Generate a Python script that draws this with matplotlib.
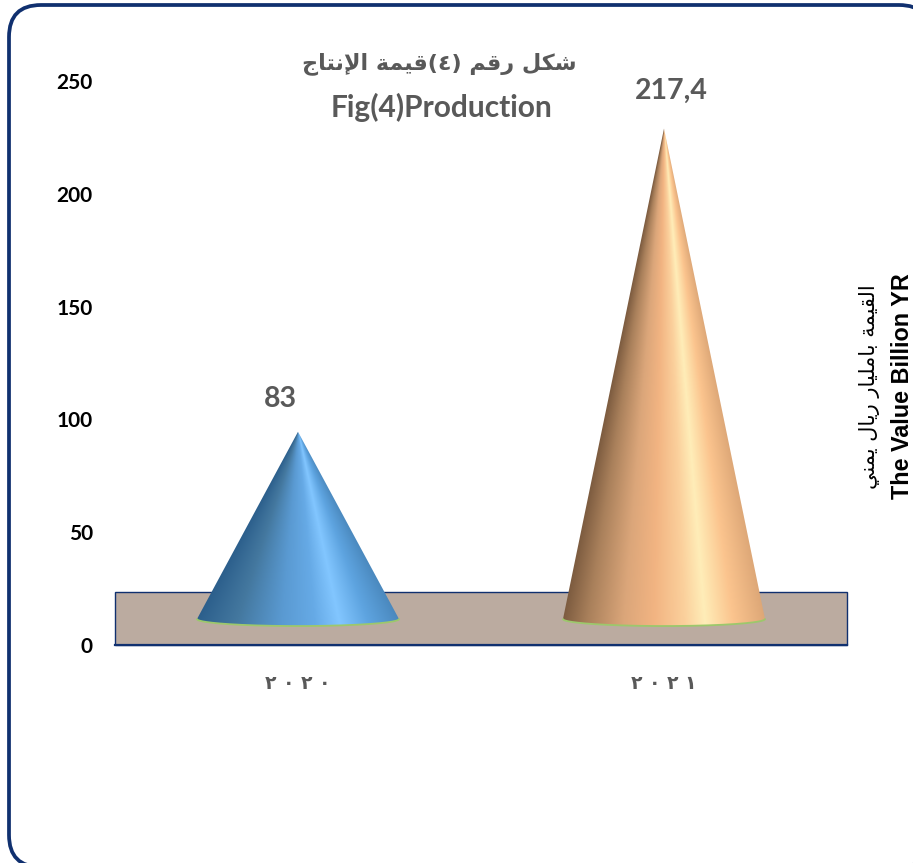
import numpy as np
import matplotlib
matplotlib.use('Agg')
import matplotlib.pyplot as plt
from matplotlib.colors import LinearSegmentedColormap
from matplotlib.patches import FancyBboxPatch, Polygon, Rectangle

# data
years = ['٢٠٢٠', '٢٠٢١']
values = [83, 217.4]
value_labels = ['83', '217,4']
y_ticks = [0, 50, 100, 150, 200, 250]

title_ar = 'شكل رقم (٤)قيمة الإنتاج'
title_en = 'Fig(4)Production'
ylabel_ar = 'القيمة بامليار ريال يمني'
ylabel_en = 'The Value Billion YR'

W, H = 913, 863
GRAY = '#595959'
NAVY = '#10306f'

# matplotlib does not shape arabic, so pick the presentation forms by hand
FORMS = {
    'ا': (0xFE8D, 0xFE8E), 'إ': (0xFE87, 0xFE88), 'ر': (0xFEAD, 0xFEAE), 'ة': (0xFE93, 0xFE94),
    'ب': (0xFE8F, 0xFE90, 0xFE91, 0xFE92), 'ت': (0xFE95, 0xFE96, 0xFE97, 0xFE98),
    'ج': (0xFE9D, 0xFE9E, 0xFE9F, 0xFEA0), 'ش': (0xFEB5, 0xFEB6, 0xFEB7, 0xFEB8),
    'ق': (0xFED5, 0xFED6, 0xFED7, 0xFED8), 'ك': (0xFED9, 0xFEDA, 0xFEDB, 0xFEDC),
    'ل': (0xFEDD, 0xFEDE, 0xFEDF, 0xFEE0), 'م': (0xFEE1, 0xFEE2, 0xFEE3, 0xFEE4),
    'ن': (0xFEE5, 0xFEE6, 0xFEE7, 0xFEE8), 'ي': (0xFEF1, 0xFEF2, 0xFEF3, 0xFEF4),
}


def shape_ar(text):
    out = []
    i = 0
    while i < len(text):
        c = text[i]
        nxt = text[i + 1] if i + 1 < len(text) else ''
        prev = text[i - 1] if i > 0 else ''
        prev_joins = prev in FORMS and len(FORMS[prev]) == 4
        if c == 'ل' and nxt == 'إ':
            out.append(chr(0xFEFA if prev_joins else 0xFEF9))
            i += 2
            continue
        if c in FORMS:
            f = FORMS[c]
            next_ok = nxt in FORMS and len(f) == 4
            if prev_joins and next_ok:
                out.append(chr(f[3]))
            elif prev_joins:
                out.append(chr(f[1]))
            elif next_ok:
                out.append(chr(f[2]))
            else:
                out.append(chr(f[0]))
        else:
            out.append({'(': ')', ')': '('}.get(c, c))
        i += 1
    return ''.join(reversed(out))


fig = plt.figure(figsize=(W / 100, H / 100), dpi=100, facecolor='white')

# rounded frame, runs off the right and bottom edge
frame_ax = fig.add_axes([0, 0, 1, 1], zorder=0)
frame_ax.set_xlim(0, W)
frame_ax.set_ylim(H, 0)
frame_ax.axis('off')
frame_ax.add_patch(FancyBboxPatch((40, 36), 860, 800, boxstyle='round,pad=31,rounding_size=32',
                                  fc='white', ec=NAVY, lw=2.7))

ax = fig.add_axes([115 / W, (H - 645) / H, 732 / W, 618 / H], zorder=1)
ax.set_xlim(-0.5, 1.5)
ax.set_ylim(0, 618 / 2.256)
ax.patch.set_alpha(0)
for s in ax.spines.values():
    s.set_visible(False)

# floor
floor_h = 23.5
ax.add_patch(Rectangle((-0.5, 0), 2, floor_h, fc='#bbaba0', ec=NAVY, lw=1.0, zorder=1, clip_on=False))
ax.plot([-0.5, 1.5], [0, 0], color=NAVY, lw=1.6, zorder=1, clip_on=False)

cmaps = [
    LinearSegmentedColormap.from_list('b', [(0, '#2c5f8c'), (0.2, '#44789f'), (0.42, '#5a9ad2'),
                                            (0.58, '#66aae6'), (0.7, '#82c6ff'), (0.84, '#5ea4e0'), (1, '#4a88bd')]),
    LinearSegmentedColormap.from_list('o', [(0, '#7d5c40'), (0.12, '#a9805b'), (0.3, '#dba67a'), (0.45, '#f2b482'),
                                            (0.6, '#fbd09c'), (0.7, '#ffedb8'), (0.84, '#fbc48e'), (1, '#dda777')]),
]

base_y = 11.5
base_r = 0.276
base_b = 3.1
t = np.linspace(np.pi, 2 * np.pi, 161)

for i, (v, cmap) in enumerate(zip(values, cmaps)):
    apex = v + base_y
    ex = i + base_r * np.cos(t)
    ey = base_y + base_b * np.sin(t)

    # shading runs around the cone, so the colour depends on the angle seen from the tip
    xs = np.linspace(i - base_r, i + base_r, 500)
    ys = np.linspace(base_y - base_b, apex, 900)
    xx, yy = np.meshgrid(xs, ys)
    u = (xx - i) / (base_r * np.maximum(apex - yy, 1e-3) / v)
    u = np.clip((u + 1) / 2, 0, 1)
    im = ax.imshow(u, cmap=cmap, vmin=0, vmax=1, origin='lower', aspect='auto', zorder=3,
                   extent=(xs[0], xs[-1], ys[0], ys[-1]))
    outline = Polygon(np.vstack([np.column_stack([ex, ey]), [i, apex]]), closed=True, transform=ax.transData)
    im.set_clip_path(outline)
    ax.plot(ex, ey, color='#9cc86c', lw=1.3, zorder=4, solid_capstyle='round')

ax.set_xlim(-0.5, 1.5)
ax.set_ylim(0, 618 / 2.256)

# value labels sit a bit off the cone tip
for i, (v, lab, dx, dy) in enumerate(zip(values, value_labels, [-18, 7], [33, 38])):
    ax.annotate(lab, (i, v + base_y), xytext=(dx, dy), textcoords='offset pixels', ha='center', va='center',
                family='Lato', fontweight='bold', fontsize=20.5, color=GRAY, zorder=5)

ax.set_yticks(y_ticks)
ax.set_xticks([0, 1])
ax.set_xticklabels([' '.join(y) for y in years], family='DejaVu Sans', fontweight='bold',
                   fontsize=13.5, color=GRAY)
ax.tick_params(axis='x', length=0, pad=21)
ax.tick_params(axis='y', length=0, pad=16)
for lab in ax.get_yticklabels():
    lab.set_family('Lato')
    lab.set_fontweight('bold')
    lab.set_fontsize(15)
    lab.set_color('black')


def px(x, y, s, **kw):
    fig.text(x / W, 1 - y / H, s, ha='center', va='center', **kw)


px(439, 64, shape_ar(title_ar), family='DejaVu Sans', fontweight='bold', fontsize=16, color=GRAY)
px(441, 107, title_en, family='Lato', fontweight='bold', fontsize=21.5, color=GRAY)
px(869, 387, shape_ar(ylabel_ar), family='DejaVu Sans', fontsize=15, color='black', rotation=90)
px(902, 386, ylabel_en, family='Liberation Sans', fontweight='bold', fontsize=16.8, color='black', rotation=90)

fig.savefig('out.png', dpi=100)
